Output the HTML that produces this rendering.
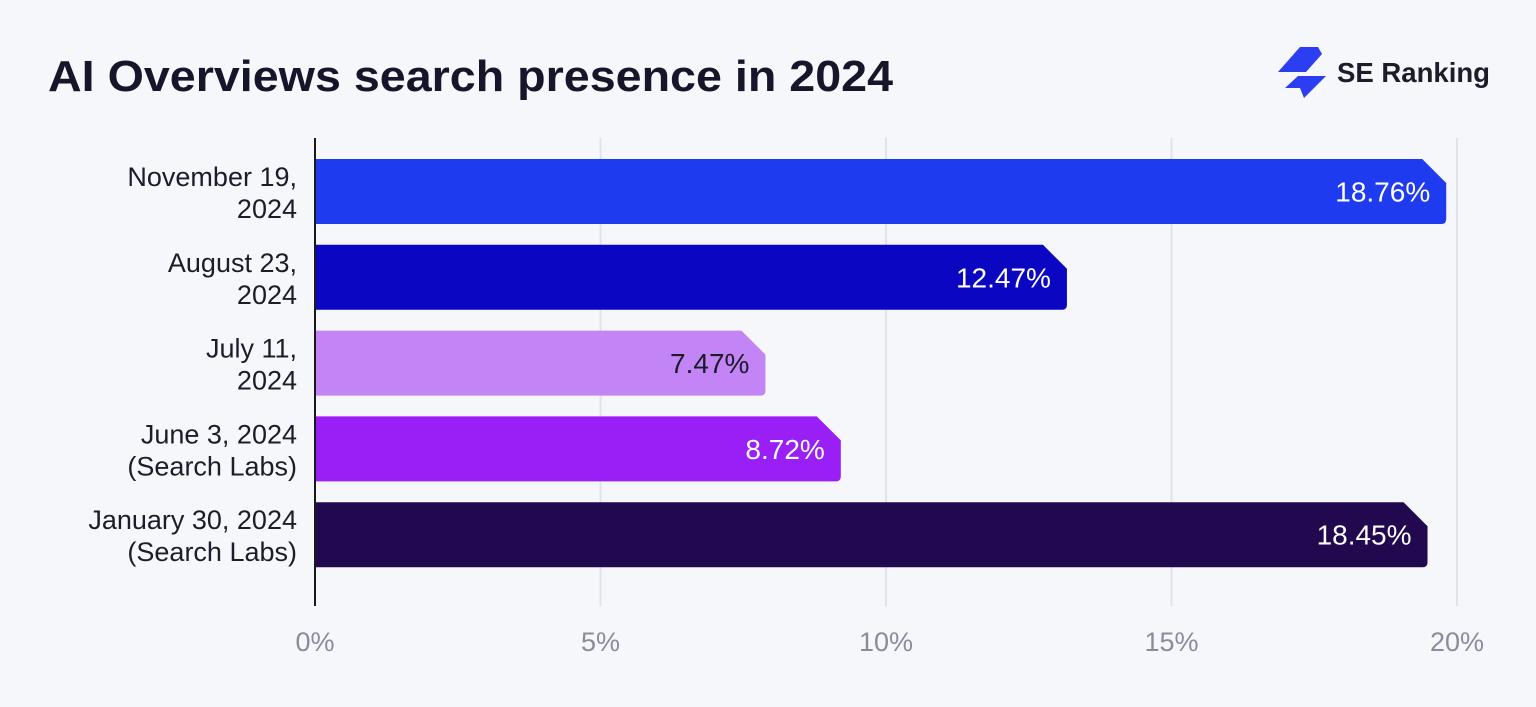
<!DOCTYPE html>
<html><head><meta charset="utf-8"><style>
body{margin:0;width:1536px;height:702px;background:#f6f7fb;overflow:hidden;font-family:"Liberation Sans",sans-serif}
</style></head><body>
<svg width="1536" height="702" xmlns="http://www.w3.org/2000/svg" id="svg">
<rect width="1536" height="702" fill="#f6f7fb"/>
<text x="48" y="91" font-size="44" font-weight="bold" fill="#16162a" textLength="845" lengthAdjust="spacingAndGlyphs">AI Overviews search presence in 2024</text>
<g>
<polygon points="1300,47 1318,47 1322,54 1306,72 1278,72" fill="#2b3ef2"/>
<polygon points="1298,76 1326,76 1304,98 1300,88 1285,88" fill="#2b3ef2"/>
<text x="1337" y="82" font-size="28" font-weight="bold" fill="#1c1c2a" textLength="153" lengthAdjust="spacingAndGlyphs">SE Ranking</text>
</g>
<g id="grid"></g><g id="bars"></g><g id="labels"></g>
<line x1="315" y1="138" x2="315" y2="606" stroke="#1a1a1a" stroke-width="2"/>
</svg>
<script>
const categories=[["November 19,","2024"],["August 23,","2024"],["July 11,","2024"],["June 3, 2024","(Search Labs)"],["January 30, 2024","(Search Labs)"]];
const values=[18.76,12.47,7.47,8.72,18.45];
const valueLabels=["18.76%","12.47%","7.47%","8.72%","18.45%"];
const colors=["#1f3bf0","#0a06c2","#c385f6","#991ff6","#22094f"];
const textColors=["#fff","#fff","#1a1a2a","#fff","#fff"];
const ticks=[0,5,10,15,20];
const tickLabels=["0%","5%","10%","15%","20%"];
const NS="http://www.w3.org/2000/svg";
const x=v=>315+v*57.1;       // axis scale
const bx=v=>315+v*60.3;      // bar length scale as drawn in reference
const y=i=>159+i*85.8;
const bh=65;
function mk(t,a,p){const e=document.createElementNS(NS,t);for(const k in a)e.setAttribute(k,a[k]);p.appendChild(e);return e;}
const grid=document.getElementById('grid'),bars=document.getElementById('bars'),labels=document.getElementById('labels');
ticks.forEach((t,i)=>{
 if(t>0){const l=mk('line',{x1:x(t),x2:x(t),y1:138,y2:606,stroke:'#e1e3ec','stroke-width':2},grid);
 
 }
 const tx=mk('text',{x:x(t),y:651,'font-size':27,fill:'#8a8c99','text-anchor':'middle'},grid);
 tx.textContent=tickLabels[i];
 
 
});
values.forEach((v,i)=>{
 const x0=315,x1=bx(v),y0=y(i),y1=y0+bh,c=24,r=5;
 const p=mk('path',{d:`M${x0},${y0} L${x1-c},${y0} L${x1},${y0+c} L${x1},${y1-r} Q${x1},${y1} ${x1-r},${y1} L${x0},${y1} Z`,fill:colors[i]},bars);
 
 
 const t=mk('text',{x:x1-16,y:y0+bh/2+10,'font-size':28,fill:textColors[i],'text-anchor':'end'},bars);
 t.textContent=valueLabels[i];
 
 
 categories[i].forEach((s,j)=>{
  const l=mk('text',{x:297,y:y0+27+j*32,'font-size':27,fill:'#1c1c2a','text-anchor':'end'},labels);
  l.textContent=s;
  
  
 });
});
</script>
</body></html>
